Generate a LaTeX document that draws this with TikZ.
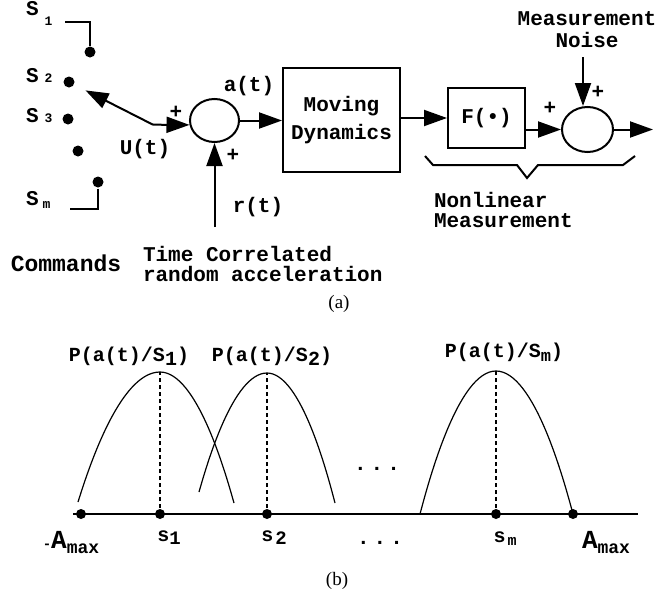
\documentclass[tikz,border=0pt]{standalone}
\usepackage{fontspec}
\setmainfont{Liberation Serif}
\setmonofont{Liberation Mono}
\usetikzlibrary{arrows.meta,positioning,shapes.geometric}

\newcommand{\lowsub}[3][0pt]{\raisebox{#1}{\fontsize{#2}{#2}\selectfont #3}}
\newcommand{\amaxtxt}{{\bfseries\fontsize{26}{26}\selectfont A}\lowsub[-5pt]{18}{max}}

\begin{document}
\begin{tikzpicture}[x=1pt,y=-1pt,line width=2pt,
  txt/.style={font=\ttfamily\bfseries\fontsize{21}{22}\selectfont,inner sep=0pt},
  plab/.style={font=\ttfamily\bfseries\fontsize{20}{22}\selectfont,inner sep=0pt},
  blk/.style={draw,inner sep=0pt,align=center},
  adder/.style={draw,ellipse,inner sep=0pt},
  pin/.style={circle,fill,inner sep=0pt,minimum size=11pt},
  tick/.style={circle,fill,inner sep=0pt,minimum size=10pt},
  sig/.style={-{Triangle[length=23pt,width=16pt]}},
  dist/.style={line width=1.2pt},
  subcap/.style={font=\fontsize{19}{21}\selectfont,inner sep=0pt}]
\useasboundingbox (0,0) rectangle (666,597);

% (a) command switch
\node[pin] (s1pin) at (90,52) {};
\node[pin] (s2pin) at (69,82) {};
\node[pin] (s3pin) at (68,119) {};
\node[pin] (dotpin) at (78,151) {};
\node[pin] (smpin) at (98,182) {};
\coordinate (s1end) at (65,22);
\coordinate (smend) at (70,209);
\draw (s1pin) |- (s1end);
\draw (smpin) |- (smend);
\node[txt,anchor=base west] (s1lab) at (25,15.5) {S\hspace{6pt}\lowsub[-10pt]{13}{1}};
\node[txt,anchor=base west] (s2lab) at (25,82) {S\hspace{6pt}\lowsub{13}{2}};
\node[txt,anchor=base west] (s3lab) at (25,122) {S\hspace{6pt}\lowsub{13}{3}};
\node[txt,anchor=base west] (smlab) at (25,205) {S\hspace{4pt}\lowsub[-3pt]{13}{m}};

% (a) signal chain
\node[adder,minimum width=49pt,minimum height=43pt] (sum1) at (214.5,120.5) {};
\node[blk,txt,minimum width=117pt,minimum height=104pt,font=\ttfamily\bfseries\fontsize{21}{28}\selectfont] (dyn) at (341.5,120) {Moving\\Dynamics};
\node[blk,txt,minimum width=77pt,minimum height=60pt] (fbox) at (486.5,118) {F(\textbullet)};
\node[adder,minimum width=51pt,minimum height=45pt] (sum2) at (587.5,129.5) {};
\coordinate (ujoin) at (153,124.7);
\coordinate (rin) at (214.5,227);
\coordinate (ntop) at (583,57);
\coordinate (yout) at (653,129.5);
\draw[sig,shorten >=12pt] (ujoin) -- (s2pin);
\draw[sig] (ujoin) -- (sum1.190);
\draw[sig] (rin) -- (sum1.south);
\draw[sig] (sum1.east) -- (dyn.west |- sum1.east);
\draw[sig] (dyn.east |- fbox) -- (fbox.west);
\draw[sig] (fbox.east |- sum2) -- (sum2.west);
\draw[sig] (ntop) -- (ntop |- sum2.north);
\draw[sig] (sum2.east) -- (yout);
\node[txt] (ulab) at (145,149) {U(t)};
\node[txt] (alab) at (249,86) {a(t)};
\node[txt] (rlab) at (258,207) {r(t)};
\node[txt] (pu) at (176,112) {+};
\node[txt] (pr) at (233,155) {+};
\node[txt] (pf) at (550,108) {+};
\node[txt] (pn) at (598,92) {+};
\node[txt,align=center] (noise) at (587,30) {Measurement\\Noise};
\draw (425,156) -- (433,165) -- (517,165) -- (527,178) -- (538,165) -- (623,165) -- (635,156);
\node[txt,align=left,anchor=west,font=\ttfamily\bfseries\fontsize{21}{20}\selectfont] (nlm) at (433,210) {Nonlinear\\Measurement};
\node[txt,font=\ttfamily\bfseries\fontsize{23}{24}\selectfont] (cmds) at (66,263) {Commands};
\node[txt,align=left,anchor=west,font=\ttfamily\bfseries\fontsize{21}{20}\selectfont] (tcra) at (142,264) {Time Correlated\\random acceleration};
\node[subcap] (capa) at (339,304) {(a)};

% (b) densities
\coordinate (axl) at (73,514);
\coordinate (axr) at (638,514);
\draw[dist] (axl) -- (axr);
\node[tick] (amin) at (81,514) {};
\node[tick] (s1t) at (160,514) {};
\node[tick] (s2t) at (267,514) {};
\node[tick] (smt) at (496,514) {};
\node[tick] (amax) at (573,514) {};
\coordinate (pk1) at (160,372);
\coordinate (pk2) at (267,373);
\coordinate (pkm) at (496,371);
\draw[dist] (78,502) parabola bend (pk1) (234,503);
\draw[dist] (199,492) parabola bend (pk2) (335,503);
\draw[dist] (420,514) parabola bend (pkm) (amax.center);
\draw[dist,dash pattern=on 4pt off 3pt] (s1t) -- (pk1);
\draw[dist,dash pattern=on 4pt off 3pt] (s2t) -- (pk2);
\draw[dist,dash pattern=on 4pt off 3pt] (smt) -- (pkm);
\node[plab] (pl1) at (129,356) {P(a(t)/S\lowsub[-4pt]{20}{1})};
\node[plab] (pl2) at (272,356) {P(a(t)/S\lowsub[-4pt]{20}{2})};
\node[plab] (plm) at (504,352) {P(a(t)/S\lowsub[-4pt]{17}{m})};
\node[txt] (dotsa) at (377,469) {.\hspace{4pt}.\hspace{4pt}.};
\node[txt] (dotsb) at (380,543) {.\hspace{4pt}.\hspace{4pt}.};
\node[plab] (amintxt) at (71,543) {{\fontsize{14}{14}\selectfont -}\amaxtxt};
\node[plab] (s1txt) at (169,538) {s\lowsub[-3pt]{19}{1}};
\node[plab] (s2txt) at (274,538) {s\hspace{2pt}\lowsub[-3pt]{19}{2}};
\node[plab] (smtxt) at (505,539) {s\hspace{2pt}\lowsub[-3pt]{15}{m}};
\node[plab] (amaxtxt) at (606,543) {\amaxtxt};
\node[subcap] (capb) at (337,581) {(b)};
\end{tikzpicture}
\end{document}
